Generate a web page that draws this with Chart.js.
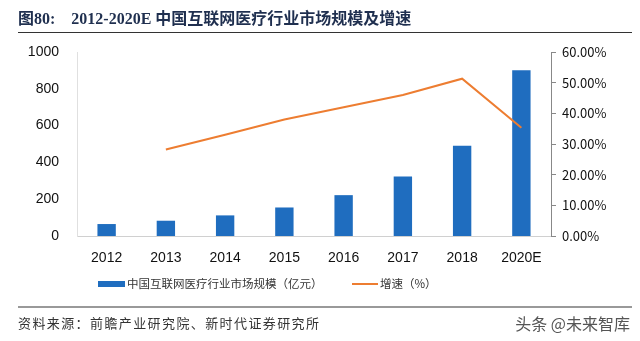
<!DOCTYPE html>
<html>
<head>
<meta charset="utf-8">
<script src="https://cdn.jsdelivr.net/npm/chart.js@4/dist/chart.umd.min.js"></script>
<style>
  html, body { margin: 0; padding: 0; background: #fff; }
  #wrap { position: relative; width: 640px; height: 341px; overflow: hidden; }
  #chart { position: absolute; left: 0; top: 0; }
  .title {
    position: absolute; left: 18px; top: 5px; font: bold 16px "Liberation Serif", "Noto Sans CJK SC", serif;
    color: #1f2f4f; white-space: nowrap;
  }
  .rule { position: absolute; left: 18px; width: 614px; height: 0; }
  .legend {
    position: absolute; top: 275px; font: 11.5px "Noto Sans CJK SC", sans-serif; color: #333;
    white-space: nowrap;
  }
  .swatch { position: absolute; }
  .source {
    position: absolute; left: 18px; top: 313px; font: 13px "Noto Sans CJK SC", sans-serif; color: #333;
    white-space: nowrap; letter-spacing: 1.4px;
  }
  .mark {
    position: absolute; right: 10px; top: 311px; font: 16px "Noto Sans CJK SC", sans-serif; color: #555;
    white-space: nowrap;
  }
</style>
</head>
<body>
<div id="wrap">
  <canvas id="chart" width="640" height="341"></canvas>
  <div class="title">图80:&nbsp;&nbsp;&nbsp; 2012-2020E 中国互联网医疗行业市场规模及增速</div>
  <div class="rule" style="top:32px;border-top:1px solid #333;"></div>
  <div class="swatch" style="left:98px;top:281px;width:27px;height:6px;background:#1f6dbf;"></div>
  <div class="legend" style="left:127px;">中国互联网医疗行业市场规模（亿元）</div>
  <div class="swatch" style="left:352px;top:283px;width:26px;height:2px;background:#ed7d31;"></div>
  <div class="legend" style="left:380px;">增速（%）</div>
  <div class="rule" style="top:306px;border-top:2px solid #999;"></div>
  <div class="source">资料来源：前瞻产业研究院、新时代证券研究所</div>
  <div class="mark">头条 @未来智库</div>
</div>
<script>
const years = ['2012', '2013', '2014', '2015', '2016', '2017', '2018', '2020E'];
const marketSize = [65, 83, 112, 155, 222, 324, 490, 901];
const growthRate = [null, 28.2, 33.0, 38.0, 42.0, 46.0, 51.3, 35.3];

const leftTicks = [0, 200, 400, 600, 800, 1000];
const rightTicks = [0, 10, 20, 30, 40, 50, 60];

const tickFont = { family: '"Liberation Sans", Arial, sans-serif', size: 14 };

new Chart(document.getElementById('chart'), {
  data: {
    labels: years,
    datasets: [
      {
        type: 'bar',
        label: '中国互联网医疗行业市场规模（亿元）',
        data: marketSize,
        backgroundColor: '#1f6dbf',
        yAxisID: 'y',
        barPercentage: 0.62,
        categoryPercentage: 0.5,
        order: 2,
      },
      {
        type: 'line',
        label: '增速（%）',
        data: growthRate,
        borderColor: '#ed7d31',
        backgroundColor: '#ed7d31',
        borderWidth: 2,
        pointRadius: 0,
        tension: 0,
        spanGaps: false,
        yAxisID: 'y1',
        order: 1,
      },
    ],
  },
  options: {
    responsive: false,
    animation: false,
    layout: { padding: { top: 52, left: 0, right: 0, bottom: 0 } },
    plugins: { legend: { display: false }, tooltip: { enabled: false } },
    scales: {
      x: {
        grid: { display: false },
        border: { display: true, color: '#d0d0d0', width: 1 },
        ticks: { color: '#111', font: tickFont, padding: 6, maxRotation: 0 },
        afterFit: s => { s.height = 105; },
      },
      y: {
        position: 'left',
        min: 0,
        max: 1000,
        afterBuildTicks: s => { s.ticks = leftTicks.map(v => ({ value: v })); },
        grid: { display: false },
        border: { display: true, color: '#e0e0e0', width: 1 },
        ticks: { color: '#111', font: tickFont, padding: 10, callback: v => String(v) },
        afterFit: s => { s.width = 77; },
      },
      y1: {
        position: 'right',
        min: 0,
        max: 60,
        afterBuildTicks: s => { s.ticks = rightTicks.map(v => ({ value: v })); },
        grid: { display: true, drawOnChartArea: false, drawTicks: true, tickLength: 5, color: '#888' },
        border: { display: true, color: '#888', width: 1 },
        ticks: {
          color: '#111',
          font: { family: '"Noto Sans CJK SC", sans-serif', size: 13 },
          padding: 6,
          callback: v => v.toFixed(2) + '%',
        },
        afterFit: s => { s.width = 89; },
      },
    },
  },
});
</script>
</body>
</html>
